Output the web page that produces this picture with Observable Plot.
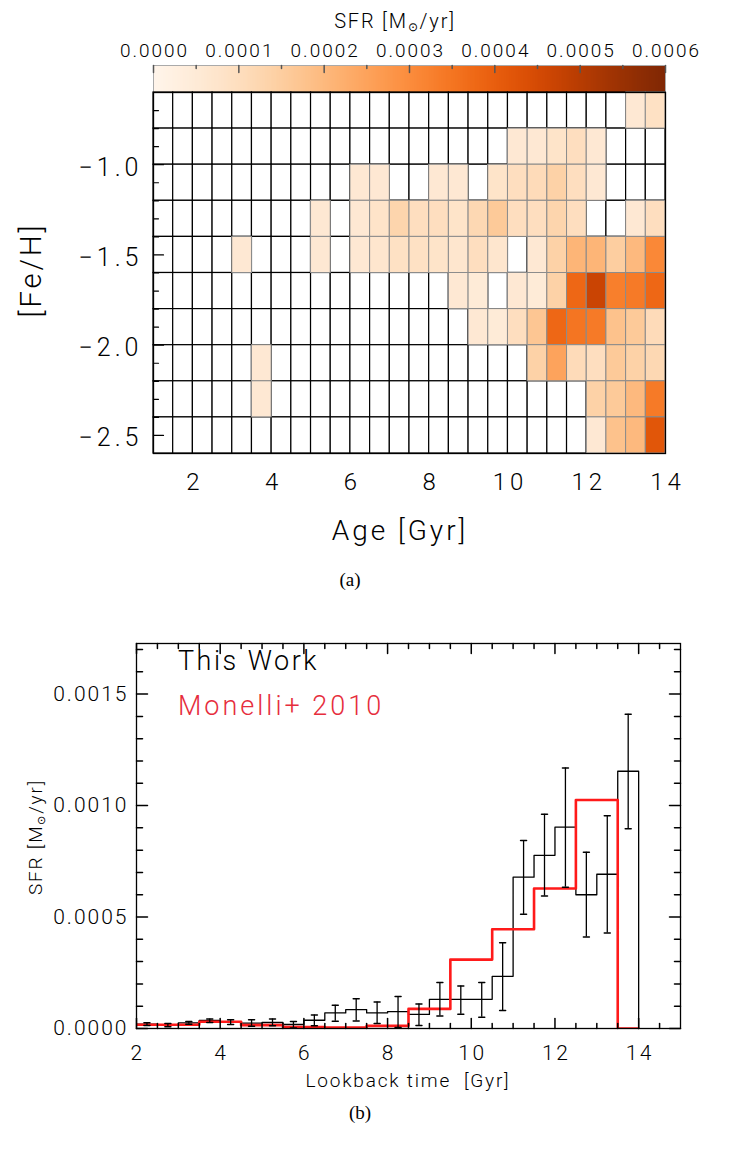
<!DOCTYPE html>
<html><head><meta charset="utf-8">
<script src="https://cdn.jsdelivr.net/npm/d3@7"></script>
<script src="https://cdn.jsdelivr.net/npm/@observablehq/plot@0.6"></script>
<style>
body{margin:0;background:#fff;}
#root{position:relative;width:729px;height:1149px;font-family:Roboto,"Liberation Sans",sans-serif;font-weight:300;color:#000;}
#root svg{position:absolute;left:0;overflow:visible;}
#cb [aria-label="x-axis tick label"]{letter-spacing:2px;}
#hm [aria-label="x-axis tick label"]{letter-spacing:4px;}
#hm [aria-label="y-axis tick label"]{letter-spacing:4px;}
#bt [aria-label="x-axis tick label"]{letter-spacing:2.5px;}
#bt [aria-label="y-axis tick label"]{letter-spacing:2px;}
.lbl{position:absolute;white-space:nowrap;transform:translate(-50%,-50%);line-height:1;}
.lft{position:absolute;white-space:nowrap;transform:translate(0,-50%);line-height:1;}
.rot{position:absolute;white-space:nowrap;transform:translate(-50%,-50%) rotate(-90deg);line-height:1;}
sub{font-size:60%;vertical-align:-0.25em;}
</style></head><body><div id="root"></div><script>
// ---------- Panel (a): SFR in age / metallicity bins ----------
const ageEdges = [1.0,1.5,2.0,2.5,3.0,3.5,4.0,4.5,5.0,5.5,6.0,6.5,7.0,7.5,8.0,8.5,9.0,9.5,10.0,10.5,11.0,11.5,12.0,12.5,13.0,13.5,14.0];
const fehEdges = [-0.6,-0.8,-1.0,-1.2,-1.4,-1.6,-1.8,-2.0,-2.2,-2.4,-2.6];
// rows from top ([Fe/H] -0.6..-0.8) to bottom (-2.4..-2.6); 26 age columns each (units: Msun/yr)
const sfrRow0 = [0,0,0,0,0,0,0,0,0,0,0,0,0,0,0,0,0,0,0,0,0,0,0,0,0.00006,0.00009];
const sfrRow1 = [0,0,0,0,0,0,0,0,0,0,0,0,0,0,0,0,0,0,0.00006,0.00006,0.00008,0.0001,0.00006,0,0,0];
const sfrRow2 = [0,0,0,0,0,0,0,0,0,0,0.00006,0.00006,0,0,0.00006,0.00006,0,0.00008,0.0001,0.00011,0.00014,0.0001,0.00006,0,0,0];
const sfrRow3 = [0,0,0,0,0,0,0,0,0.00006,0,0.00006,0.00008,0.00013,0.0001,0.0001,0.00008,0.00012,0.00016,0.0001,0.0001,0.00013,0.0001,0,0,0.00006,0.0001];
const sfrRow4 = [0,0,0,0,0.00006,0,0,0,0.00006,0,0.00006,0.00007,0.00009,0.00009,0.00008,0.00007,0.0001,0.00007,0,0.00006,0.00014,0.00021,0.00021,0.00015,0.0002,0.00031];
const sfrRow5 = [0,0,0,0,0,0,0,0,0,0,0,0,0,0,0,0.00006,0.00005,0,0.00006,0.00005,0.00014,0.00038,0.00047,0.00033,0.00034,0.00038];
const sfrRow6 = [0,0,0,0,0,0,0,0,0,0,0,0,0,0,0,0,0.00006,0.00005,0.0001,0.00017,0.00038,0.00035,0.00034,0.00018,0.00016,0.00011];
const sfrRow7 = [0,0,0,0,0,0.00006,0,0,0,0,0,0,0,0,0,0,0,0,0,0.00014,0.00025,0.00011,0.0001,0.00016,0.00014,0.00012];
const sfrRow8 = [0,0,0,0,0,0.00006,0,0,0,0,0,0,0,0,0,0,0,0,0,0,0,0,0.00014,0.00016,0.0002,0.00034];
const sfrRow9 = [0,0,0,0,0,0,0,0,0,0,0,0,0,0,0,0,0,0,0,0,0,0,0.00006,0.00018,0.0002,0.00042];
const sfrRows = [sfrRow0,sfrRow1,sfrRow2,sfrRow3,sfrRow4,sfrRow5,sfrRow6,sfrRow7,sfrRow8,sfrRow9];
const colorbarTicks = [0,0.0001,0.0002,0.0003,0.0004,0.0005,0.0006];
const colorbarMinor = [0.00005,0.00015,0.00025,0.00035,0.00045,0.00055];
const ageTicks = [2,4,6,8,10,12,14];
const fehTicks = [-1.0,-1.5,-2.0,-2.5];
const fehMinor = [-0.7,-0.8,-0.9,-1.1,-1.2,-1.3,-1.4,-1.6,-1.7,-1.8,-1.9,-2.1,-2.2,-2.3,-2.4];

// ---------- Panel (b): SFR vs lookback time ----------
const twEdges = [2.0,2.5,3.0,3.5,4.0,4.5,5.0,5.5,6.0,6.5,7.0,7.5,8.0,8.5,9.0,9.5,10.0,10.5,11.0,11.5,12.0,12.5,13.0,13.5,14.0];
const twSFR = [0.00002,0.000015,0.000025,0.000036,0.000028,0.000024,0.000027,0.000018,0.000037,0.00007,0.000085,0.00007,0.000076,0.000063,0.000131,0.000131,0.000131,0.000234,0.000679,0.000777,0.000903,0.0006,0.000692,0.001154];
const twErrLo = [0.000014,0.000008,0.000019,0.000027,0.000018,0.00001,0.000012,0.000002,0.000012,0.000033,0.000034,0.000022,0.000004,0.000013,0.000056,0.000064,0.000051,0.000081,0.000512,0.000594,0.000634,0.00041,0.000428,0.000896];
const twErrHi = [0.000026,0.000022,0.000031,0.000043,0.000039,0.000039,0.000043,0.000031,0.000061,0.000104,0.000133,0.000119,0.000143,0.00011,0.000206,0.000191,0.000206,0.000385,0.000843,0.000961,0.001169,0.000791,0.000954,0.00141];
const monEdges = [1.5,2.5,3.5,4.5,5.5,6.5,7.5,8.5,9.5,10.5,11.5,12.5,13.5,14.0];
const monSFR = [0.000017,0.000017,0.00003,0.000015,0.000007,0.000004,0.000012,0.000088,0.000309,0.000445,0.000628,0.001025,0];
const timeTicks = [2,4,6,8,10,12,14];
const timeMinor = [2.5,3,3.5,4.5,5,5.5,6.5,7,7.5,8.5,9,9.5,10.5,11,11.5,12.5,13,13.5,14.5];
const sfrTicks = [0,0.0005,0.0010,0.0015];
const sfrMinor = [0.0001,0.0002,0.0003,0.0004,0.0006,0.0007,0.0008,0.0009,0.0011,0.0012,0.0013,0.0014,0.0016,0.0017];

const FONT = 'Roboto,"Liberation Sans",sans-serif';
const root = document.getElementById("root");
const lineShape = {draw(ctx, l) { ctx.moveTo(0, 0); ctx.lineTo(0, -l); }};
function place(svg, top, id) { svg.style.top = top + "px"; svg.id = id; root.appendChild(svg); }
function html(cls, x, y, inner, style) {
  const d = document.createElement("div"); d.className = cls;
  d.style.left = x + "px"; d.style.top = y + "px"; d.innerHTML = inner;
  Object.assign(d.style, style || {}); root.appendChild(d);
}
function vec(data, opts) { return Plot.vector(data, {shape: lineShape, anchor: "start", ...opts}); }

// colour bar
place(Plot.plot({
  width: 729, height: 93, marginLeft: 153, marginRight: 64, marginTop: 65, marginBottom: 1,
  style: {fontFamily: FONT, fontWeight: 300, background: "transparent"},
  x: {domain: [0, 0.0006]}, y: {domain: [0, 1], axis: null},
  color: {type: "linear", scheme: "oranges", domain: [0, 0.0006]},
  marks: [
    Plot.raster({x1: 0, x2: 0.0006, y1: 0, y2: 1, width: 300, height: 1, fill: (x, y) => x, imageRendering: "auto"}),
    Plot.frame({stroke: "#aaa"}),
    vec(colorbarTicks, {x: d => d, frameAnchor: "top", length: 7, rotate: 180, stroke: "#555"}),
    vec(colorbarMinor, {x: d => d, frameAnchor: "top", length: 3, rotate: 180, stroke: "#555"}),
    Plot.axisX({anchor: "top", ticks: colorbarTicks, tickFormat: d3.format(".4f"), tickSize: 0, tickPadding: 9, label: null, fontSize: 19, dx: 1})
  ]
}), 0, "cb");

// heat map
const cells = [];
sfrRows.forEach((row, j) => row.forEach((v, i) => cells.push({x1: ageEdges[i], x2: ageEdges[i + 1], y1: fehEdges[j], y2: fehEdges[j + 1], v})));
place(Plot.plot({
  width: 729, height: 413, marginLeft: 153, marginRight: 64, marginTop: 12, marginBottom: 40,
  style: {fontFamily: FONT, fontWeight: 300, background: "transparent"},
  x: {domain: [1, 14]}, y: {domain: [-2.6, -0.6]},
  color: {type: "linear", scheme: "oranges", domain: [0, 0.0006]},
  marks: [
    Plot.rect(cells, {x1: "x1", x2: "x2", y1: "y1", y2: "y2", fill: "white", stroke: "black", strokeWidth: 1.2}),
    Plot.rect(cells.filter(d => d.v > 0), {x1: "x1", x2: "x2", y1: "y1", y2: "y2", fill: "v", stroke: "#8c8c8c", strokeWidth: 1}),
    vec(fehMinor, {y: d => d, frameAnchor: "left", length: 5, rotate: 90, stroke: "black", strokeWidth: 1.2}),
    vec(fehTicks, {y: d => d, frameAnchor: "left", length: 10, rotate: 90, stroke: "black", strokeWidth: 1.2}),
    Plot.frame({stroke: "black", strokeWidth: 1.3}),
    Plot.axisX({ticks: ageTicks, tickSize: 0, tickPadding: 19, label: null, fontSize: 24, dx: 2}),
    Plot.axisY({ticks: fehTicks, tickFormat: d3.format(".1f"), tickSize: 0, tickPadding: 11, label: null, fontSize: 25, dy: 3})
  ]
}), 80, "hm");

// bottom panel
const twSteps = twSFR.map((v, i) => ({x: twEdges[i], y: v}));
twSteps.push({x: twEdges[twEdges.length - 1], y: twSFR[twSFR.length - 1]}, {x: twEdges[twEdges.length - 1], y: 0});
const monSteps = monSFR.map((v, i) => ({x: monEdges[i], y: v}));
monSteps.push({x: monEdges[monEdges.length - 1], y: 0});
const errs = twSFR.map((v, i) => ({x: (twEdges[i] + twEdges[i + 1]) / 2, lo: twErrLo[i], hi: twErrHi[i]}));
place(Plot.plot({
  width: 729, height: 480, marginLeft: 136, marginRight: 49, marginTop: 43, marginBottom: 52,
  style: {fontFamily: FONT, fontWeight: 300, background: "transparent"},
  x: {domain: [2, 15]}, y: {domain: [0, 0.001727]},
  marks: [
    Plot.line(twSteps, {x: "x", y: "y", curve: "step-after", stroke: "black", strokeWidth: 1.3}),
    Plot.line(monSteps, {x: "x", y: "y", curve: "step-after", stroke: "#ff1a1a", strokeWidth: 2.6, clip: true}),
    Plot.ruleX(errs, {x: "x", y1: "lo", y2: "hi", stroke: "black", strokeWidth: 1.3}),
    vec(errs, {x: "x", y: "lo", length: 6, rotate: 90, anchor: "middle", stroke: "black", strokeWidth: 1.5}),
    vec(errs, {x: "x", y: "hi", length: 6, rotate: 90, anchor: "middle", stroke: "black", strokeWidth: 1.5}),
    vec(timeTicks, {x: d => d, frameAnchor: "bottom", length: 10, rotate: 0, stroke: "black"}),
    vec(timeMinor, {x: d => d, frameAnchor: "bottom", length: 5, rotate: 0, stroke: "black"}),
    vec(timeTicks, {x: d => d, frameAnchor: "top", length: 10, rotate: 180, stroke: "black"}),
    vec(timeMinor, {x: d => d, frameAnchor: "top", length: 5, rotate: 180, stroke: "black"}),
    vec(sfrTicks, {y: d => d, frameAnchor: "left", length: 11, rotate: 90, stroke: "black"}),
    vec(sfrMinor, {y: d => d, frameAnchor: "left", length: 6, rotate: 90, stroke: "black"}),
    vec(sfrTicks, {y: d => d, frameAnchor: "right", length: 11, rotate: -90, stroke: "black"}),
    vec(sfrMinor, {y: d => d, frameAnchor: "right", length: 6, rotate: -90, stroke: "black"}),
    Plot.frame({stroke: "black", strokeWidth: 1.3}),
    Plot.axisX({ticks: timeTicks, tickSize: 0, tickPadding: 17, label: null, fontSize: 21, dx: 1.2}),
    Plot.axisY({ticks: sfrTicks, tickFormat: d3.format(".4f"), tickSize: 0, tickPadding: 8, label: null, fontSize: 21})
  ]
}), 600, "bt");

// titles and annotations
html("lbl", 395, 22, "SFR [M<sub>⊙</sub>/yr]", {fontSize: "20px", letterSpacing: "1.8px"});
html("rot", 31, 270, "[Fe/H]", {fontSize: "29px", letterSpacing: "3px"});
html("lbl", 400, 531, "Age [Gyr]", {fontSize: "28px", letterSpacing: "3px"});
html("lbl", 350, 579, "(a)", {fontSize: "19px", fontFamily: '"Liberation Serif",serif', fontWeight: 400});
html("lft", 178, 661, "This Work", {fontSize: "27px", letterSpacing: "2.5px"});
html("lft", 178, 706, "Monelli+ 2010", {fontSize: "27px", letterSpacing: "3px", color: "#e62d3c"});
html("rot", 37, 837, "SFR [M<sub>⊙</sub>/yr]", {fontSize: "19px", letterSpacing: "1.8px"});
html("lbl", 408, 1080, "Lookback time  [Gyr]", {fontSize: "19px", letterSpacing: "1.8px", whiteSpace: "pre"});
html("lbl", 360, 1112, "(b)", {fontSize: "19px", fontFamily: '"Liberation Serif",serif', fontWeight: 400});
</script></body></html>
